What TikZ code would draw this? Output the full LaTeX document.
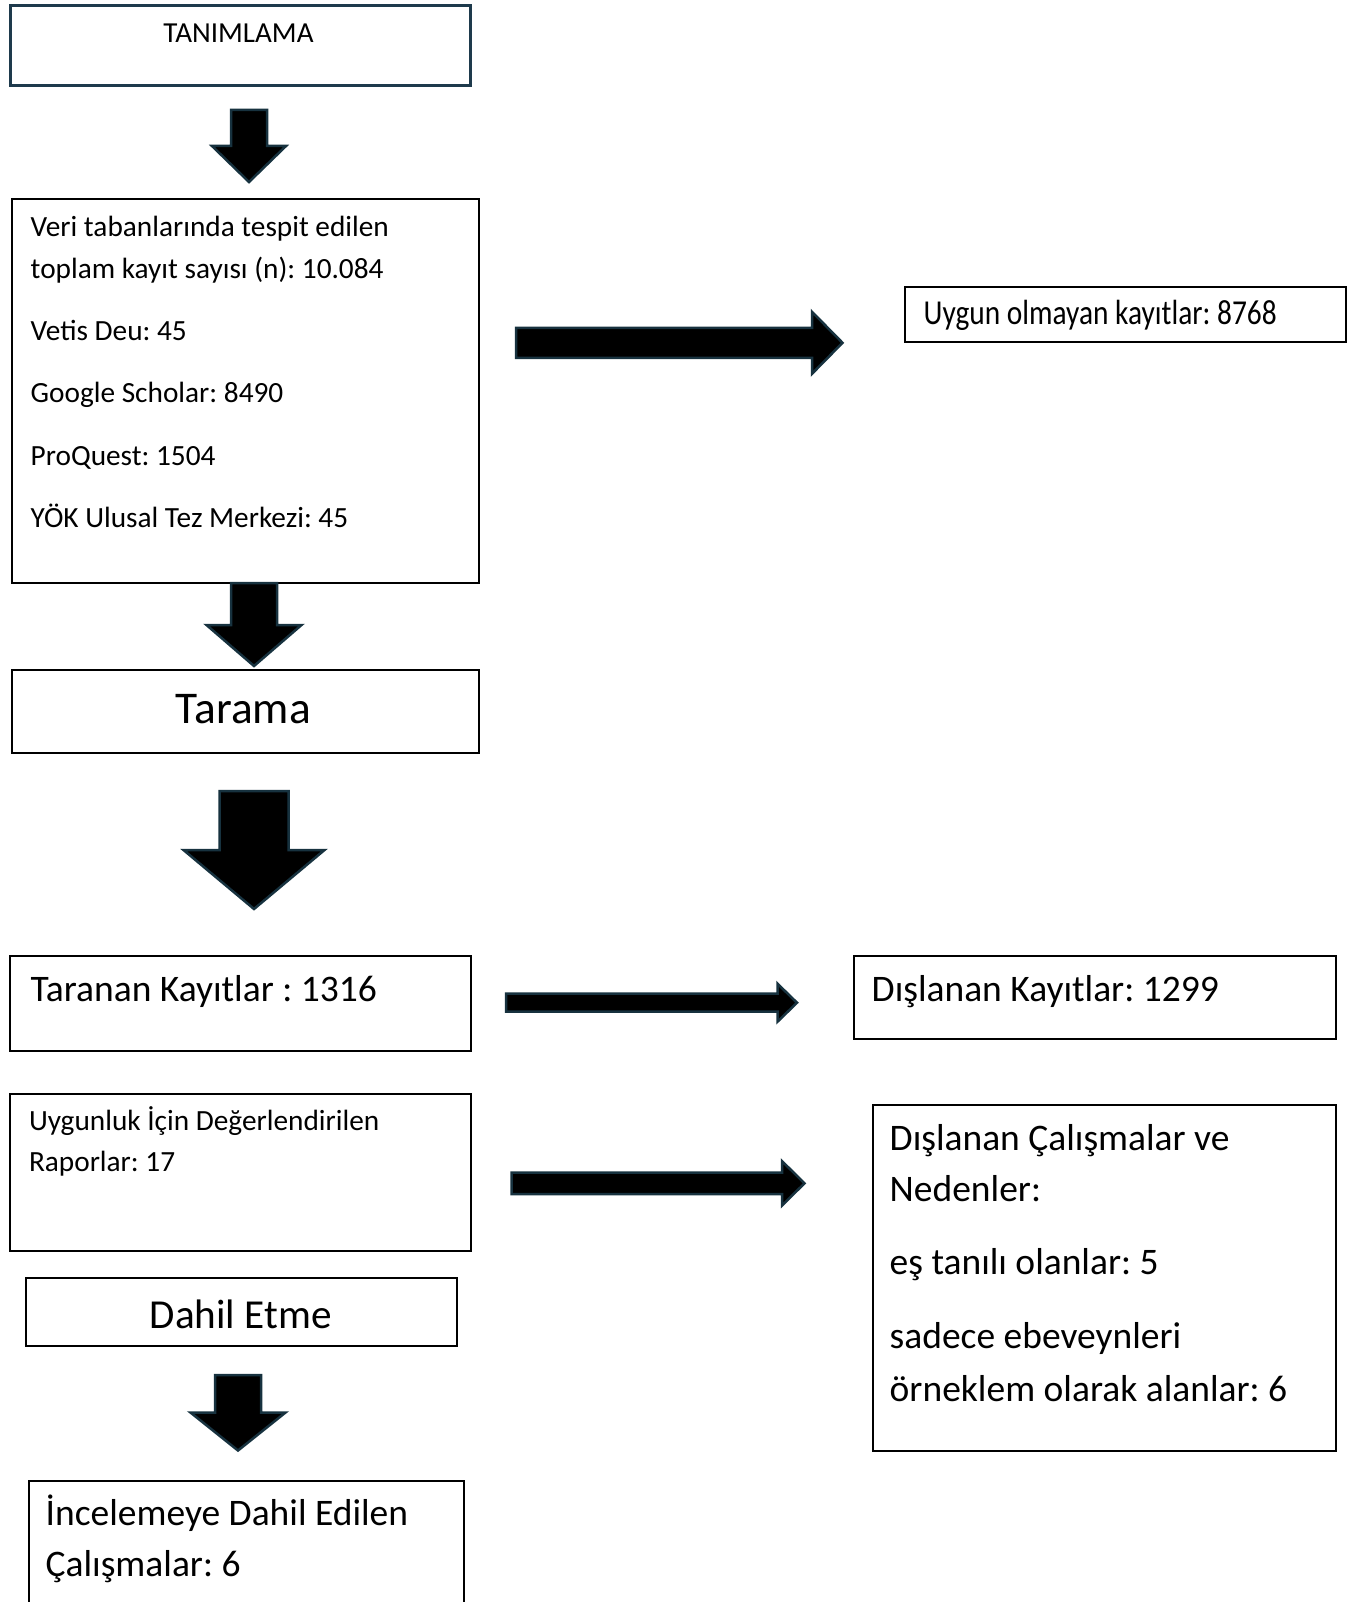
\documentclass[tikz,border=0pt]{standalone}
\usepackage{fontspec}
\setmainfont{Carlito}
\frenchspacing
\definecolor{tanimline}{HTML}{1E3A4C}
\definecolor{okline}{HTML}{17323F}
\tikzset{
  box/.style={draw,line width=2pt,inner sep=0pt,anchor=north west},
  txt/.style={anchor=base west,inner sep=0pt},
  midtxt/.style={anchor=base,inner sep=0pt},
  fs/.style={font=\fontsize{#1}{#1}\selectfont},
  blockarrow/.style={fill=black,draw=okline,line width=2.5pt,line join=miter},
  % #1 half shaft, #2 half head, #3 head length
  downblock/.style n args={3}{blockarrow,to path={
    ([xshift=-#1]\tikztostart) -- ([xshift=#1]\tikztostart)
    -- ([xshift=#1,yshift=#3]\tikztotarget) -- ([xshift=#2,yshift=#3]\tikztotarget)
    -- (\tikztotarget)
    -- ([xshift=-#2,yshift=#3]\tikztotarget) -- ([xshift=-#1,yshift=#3]\tikztotarget) -- cycle}},
  rightblock/.style n args={3}{blockarrow,to path={
    ([yshift=#1]\tikztostart) -- ([xshift=-#3,yshift=#1]\tikztotarget)
    -- ([xshift=-#3,yshift=#2]\tikztotarget) -- (\tikztotarget)
    -- ([xshift=-#3,yshift=-#2]\tikztotarget) -- ([xshift=-#3,yshift=-#1]\tikztotarget)
    -- ([yshift=-#1]\tikztostart) -- cycle}},
}
\begin{document}
\begin{tikzpicture}[x=1pt,y=-1pt]
  \useasboundingbox (0,0) rectangle (1360,1602);
  \clip (0,0) rectangle (1360,1602);

  % left column
  \node[box,draw=tanimline,line width=3pt,minimum width=460,minimum height=80] (tanim) at (9,4.5) {};
  \node[midtxt,fs=29] (tanimtxt) at (238.5,42.7) {TANIMLAMA};

  \node[box,minimum width=466.5,minimum height=383.7] (veri) at (11,198.3) {};
  \node[txt,fs=29.3] (veri1) at (30.5,236.7) {Veri tabanlarında tespit edilen};
  \node[txt,fs=29.3] (veri2) at (30.5,278.3) {toplam kayıt sayısı (n): 10.084};
  \node[txt,fs=29.3] (veri3) at (30.5,340) {Vetis Deu: 45};
  \node[txt,fs=29.3] (veri4) at (30.5,402.7) {Google Scholar: 8490};
  \node[txt,fs=29.3] (veri5) at (30.5,465) {ProQuest: 1504};
  \node[txt,fs=29.3] (veri6) at (30.5,527.3) {YÖK Ulusal Tez Merkezi: 45};

  \node[box,minimum width=467,minimum height=83] (tarama) at (11,668.7) {};
  \node[midtxt,fs=45.4] (taramatxt) at (243.3,723.3) {Tarama};

  \node[box,minimum width=460.7,minimum height=95] (taranan) at (9.3,955) {};
  \node[txt,fs=37.5] (tarantxt) at (30.3,1001) {Taranan Kayıtlar : 1316};

  \node[box,minimum width=460.7,minimum height=156.7] (uygunluk) at (9.3,1093.3) {};
  \node[txt,fs=29.3] (uygunluk1) at (28.8,1130.7) {Uygunluk İçin Değerlendirilen};
  \node[txt,fs=29.3] (uygunluk2) at (28.8,1171.7) {Raporlar: 17};

  \node[box,minimum width=430.4,minimum height=68] (dahil) at (25.3,1277) {};
  \node[midtxt,fs=41.2] (dahiltxt) at (240.7,1328.3) {Dahil Etme};

  \node[box,minimum width=435.3,minimum height=160] (inceleme) at (27.7,1480) {};
  \node[txt,fs=37.5] (inceleme1) at (45.5,1525.7) {İncelemeye Dahil Edilen};
  \node[txt,fs=37.5] (inceleme2) at (45.5,1576.7) {Çalışmalar: 6};

  % right column
  \node[box,minimum width=441,minimum height=55.3] (uygun) at (903.7,286) {};
  \node[txt,fs=35] (uyguntxt) at (923.5,324.3) {\scalebox{0.84}[1]{Uygun olmayan kayıtlar: 8768}};

  \node[box,minimum width=481.7,minimum height=83] (dislanan) at (853.3,955) {};
  \node[txt,fs=37.5] (dislantxt) at (871.5,1001) {Dışlanan Kayıtlar: 1299};

  \node[box,minimum width=463.3,minimum height=345.4] (calisma) at (871.7,1104.3) {};
  \node[txt,fs=37.5] (calisma1) at (889.5,1150) {Dışlanan Çalışmalar ve};
  \node[txt,fs=37.5] (calisma2) at (889.5,1201.7) {Nedenler:};
  \node[txt,fs=37.5] (calisma3) at (889.5,1274.3) {eş tanılı olanlar: 5};
  \node[txt,fs=37.5] (calisma4) at (889.5,1348.3) {sadece ebeveynleri};
  \node[txt,fs=37.5] (calisma5) at (889.5,1401) {örneklem olarak alanlar: 6};

  % block arrows
  \coordinate (ar1s) at (249,110);    \coordinate (ar1e) at (249,182);
  \coordinate (ar2s) at (254,583);    \coordinate (ar2e) at (254,666);
  \coordinate (ar3s) at (254,791);    \coordinate (ar3e) at (254,909);
  \coordinate (ar4s) at (238,1375);   \coordinate (ar4e) at (238,1450.5);
  \coordinate (ar5s) at (516,342.8);  \coordinate (ar5e) at (842.5,342.8);
  \coordinate (ar6s) at (506,1002.7); \coordinate (ar6e) at (797,1002.7);
  \coordinate (ar7s) at (511.5,1183.3); \coordinate (ar7e) at (804.5,1183.3);

  \draw[downblock={18}{37}{36}] (ar1s) to (ar1e);
  \draw[downblock={23}{47.5}{41}] (ar2s) to (ar2e);
  \draw[downblock={34.5}{70.5}{59}] (ar3s) to (ar3e);
  \draw[downblock={23}{47.5}{38}] (ar4s) to (ar4e);
  \draw[rightblock={15}{31}{30.5}] (ar5s) to (ar5e);
  \draw[rightblock={9}{19}{19.5}] (ar6s) to (ar6e);
  \draw[rightblock={10.7}{22.2}{22.5}] (ar7s) to (ar7e);
\end{tikzpicture}
\end{document}
